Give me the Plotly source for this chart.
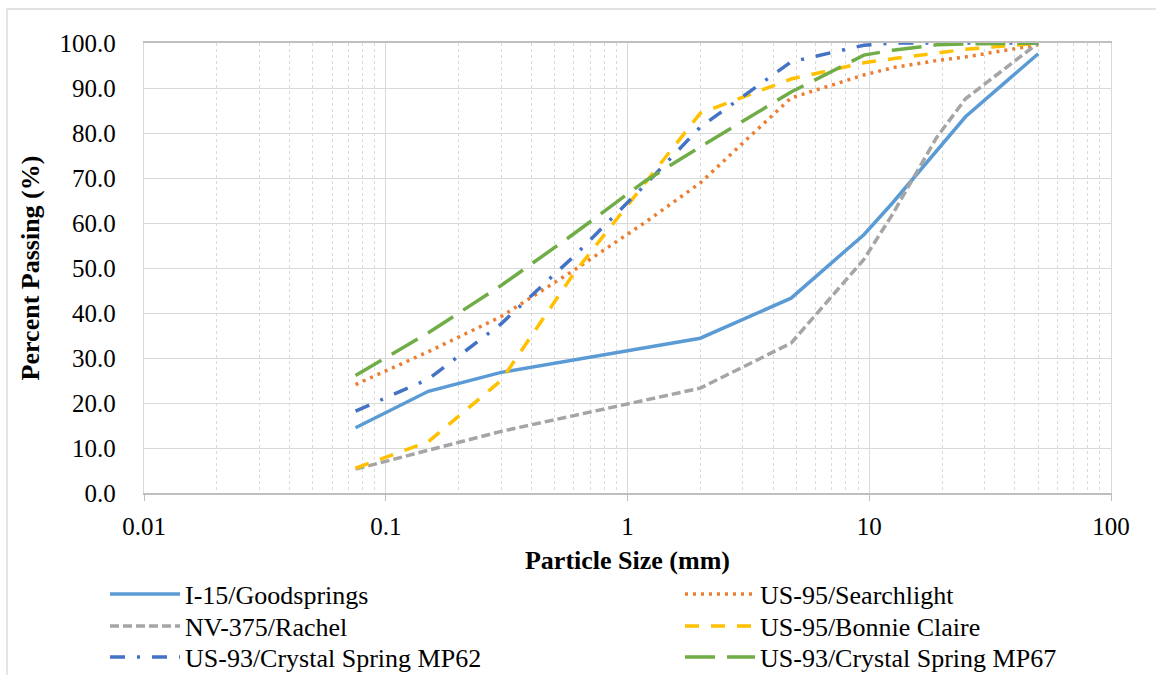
import plotly.graph_objects as go

# Sieve sizes (mm)
sizes = [0.075, 0.15, 0.3, 0.6, 1.18, 2.0, 4.75, 9.5, 12.5, 19, 25, 37.5, 50]

i15_goodsprings   = [14.5, 22.6, 26.8, 29.6, 32.3, 34.4, 43.3, 57.4, 64.5, 76.0, 83.6, 91.8, 97.6]
us95_searchlight  = [24.1, 31.4, 39.2, 49.5, 60.1, 68.9, 87.8, 92.9, 94.5, 96.1, 96.9, 98.4, 99.6]
nv375_rachel      = [5.3, 9.6, 13.7, 17.2, 20.6, 23.3, 33.3, 51.9, 62.0, 79.0, 87.6, 94.9, 100.0]
us95_bonnie       = [5.5, 11.4, 25.0, 48.8, 68.8, 84.4, 92.0, 95.6, 96.5, 97.8, 98.6, 99.4, 100.0]
us93_mp62         = [18.2, 25.3, 37.6, 52.6, 68.4, 81.3, 95.8, 99.5, 100.0, 100.0, 100.0, 100.0, 100.0]
us93_mp67         = [26.1, 35.6, 46.1, 57.6, 69.3, 76.9, 89.1, 97.3, 98.4, 99.6, 99.8, 100.0, 100.0]

series_names = ["I-15/Goodsprings", "US-95/Searchlight", "NV-375/Rachel",
                "US-95/Bonnie Claire", "US-93/Crystal Spring MP62", "US-93/Crystal Spring MP67"]
series_values = [i15_goodsprings, us95_searchlight, nv375_rachel, us95_bonnie, us93_mp62, us93_mp67]
colors = ["#5B9BD5", "#ED7D31", "#A5A5A5", "#FFC000", "#4472C4", "#70AD47"]
dashes = ["solid", "3px,5px", "9px,4px", "14px,12px", "15px,12px,3px,12px", "30px,12px"]

x_tickvals = [0.01, 0.1, 1, 10, 100]
x_ticktext = ["0.01", "0.1", "1", "10", "100"]

FONT = "Liberation Serif, Times New Roman, serif"

W, H = 1156, 675
L, R, T, B = 144, 45, 43, 182
pw, ph = W - L - R, H - T - B

def px2paper_x(px):
    return (px - L) / pw

def py2paper_y(py):
    return (H - B - py) / ph

# legend slots: two columns, three rows (left px of legend box, row centre px)
legend_cols = [105, 680]
legend_rows = [594, 626, 657]

fig = go.Figure()
legend_layout = {}
for i, (name, vals, c, d) in enumerate(zip(series_names, series_values, colors, dashes)):
    key = "legend" if i == 0 else f"legend{i + 1}"
    fig.add_trace(go.Scatter(x=sizes, y=vals, mode="lines", name=name,
                             line=dict(color=c, width=3.5, dash=d), legend=key))
    col, row = i % 2, i // 2
    legend_layout[key] = dict(
        x=px2paper_x(legend_cols[col]), xanchor="left",
        y=py2paper_y(legend_rows[row]), yanchor="middle",
        font=dict(family=FONT, size=26, color="black"),
        itemwidth=70, bgcolor="rgba(0,0,0,0)", borderwidth=0,
    )

fig.update_layout(
    width=W, height=H,
    margin=dict(l=L, r=R, t=T, b=B, autoexpand=False),
    paper_bgcolor="white", plot_bgcolor="white",
    font=dict(family=FONT, color="black", size=25),
    showlegend=True,
    shapes=[dict(type="rect", xref="paper", yref="paper",
                 x0=px2paper_x(7), x1=px2paper_x(1170),
                 y0=py2paper_y(690), y1=py2paper_y(9),
                 line=dict(color="#d9d9d9", width=1.3), fillcolor="rgba(0,0,0,0)")],
    **legend_layout,
)

fig.update_xaxes(
    type="log", range=[-2, 2],
    tickvals=x_tickvals, ticktext=x_ticktext,
    tickfont=dict(family=FONT, size=25, color="black"),
    ticks="outside", ticklen=6, tickcolor="#bfbfbf", tickwidth=1.3,
    ticklabelstandoff=4,
    showgrid=True, gridcolor="#d9d9d9", gridwidth=1.3,
    minor=dict(showgrid=True, gridcolor="#d9d9d9", griddash="dot", gridwidth=1, dtick="D1"),
    showline=True, linecolor="#bfbfbf", linewidth=1.5, mirror=True,
    zeroline=False,
    title=dict(text="<b>Particle Size (mm)</b>", font=dict(family=FONT, size=26, color="black"),
               standoff=12),
)
fig.update_yaxes(
    range=[0, 100], dtick=10, tick0=0, tickformat=".1f",
    tickfont=dict(family=FONT, size=25, color="black"),
    ticks="", ticklabelstandoff=22,
    showgrid=True, gridcolor="#d9d9d9", gridwidth=1.3,
    showline=True, linecolor="#d9d9d9", linewidth=1.3, mirror=True,
    zeroline=False,
    title=dict(text="<b>Percent Passing (%)</b>", font=dict(family=FONT, size=26, color="black"),
               standoff=12),
)

fig.write_html("out.html")
